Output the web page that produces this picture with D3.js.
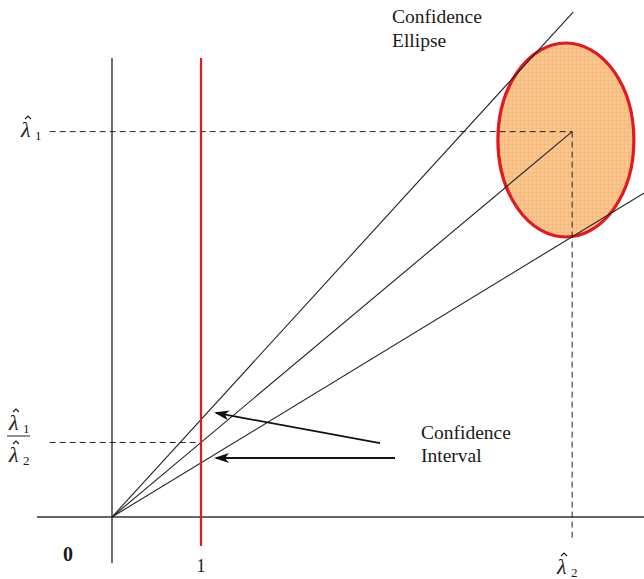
<!DOCTYPE html>
<html>
<head>
<meta charset="utf-8">
<script src="https://cdn.jsdelivr.net/npm/d3@7"></script>
<style>
  html, body { margin: 0; padding: 0; background: #fff; }
  svg { display: block; }
  text { font-family: "Liberation Serif", "Times New Roman", serif; fill: #1a1a1a; }
</style>
</head>
<body>
<svg id="chart" width="644" height="579"></svg>
<script>
// Point estimates: lambda1 (vertical), lambda2 (horizontal)
const estimates = [4.33, 5.17];
// Slopes of the rays through the origin: upper bound, lower bound
const boundSlopes = [1.095, 0.609];
// Axis tick labels
const tickValues = [0, 1];
const tickLabels = ["0", "1"];
// Confidence ellipse: centre [x, y] and radii [rx, ry] in data units
const ellipseCenter = [5.10, 4.236];
const ellipseRadii = [0.764, 1.09];
// Extents of the axes and of the rays
const xExtent = [-0.843, 5.98];
const yExtent = [-0.517, 5.157];
const redExtent = [-0.326, 5.157];
const rayTop = 5.674;
// Annotation arrows: [tailX, tailY, tipX, tipY]
const arrows = [[3.011, 0.831, 1.169, 1.169], [3.18, 0.663, 1.169, 0.663]];

const svg = d3.select("#chart");
const unit = 89;
const x = d3.scaleLinear().domain([0, 1]).range([112, 112 + unit]);
const y = d3.scaleLinear().domain([0, 1]).range([517, 517 - unit]);

const lambda1 = estimates[0], lambda2 = estimates[1];
const ratio = lambda1 / lambda2;

// Gridded fill for the ellipse, and the arrowhead marker
const defs = svg.append("defs");
const pat = defs.append("pattern").attr("id", "grid")
  .attr("width", 4).attr("height", 4).attr("patternUnits", "userSpaceOnUse");
pat.append("rect").attr("width", 4).attr("height", 4).attr("fill", "#fbc68c");
pat.append("path").attr("d", "M0,0.5H4M0.5,0V4").attr("stroke", "#f3b67a").attr("stroke-width", 0.6);
defs.append("marker").attr("id", "arrowhead")
  .attr("viewBox", "0 0 15 10").attr("refX", 13).attr("refY", 5)
  .attr("markerWidth", 15).attr("markerHeight", 10).attr("markerUnits", "userSpaceOnUse")
  .attr("orient", "auto")
  .append("path").attr("d", "M15,5L0,0L4,5L0,10Z").attr("fill", "#111");

// Ellipse
svg.append("ellipse")
  .attr("cx", x(ellipseCenter[0])).attr("cy", y(ellipseCenter[1]))
  .attr("rx", x(ellipseRadii[0]) - x(0)).attr("ry", y(0) - y(ellipseRadii[1]))
  .attr("fill", "url(#grid)").attr("stroke", "#e2191e").attr("stroke-width", 3.2);

// Axes
svg.append("line").attr("x1", x(xExtent[0])).attr("x2", x(xExtent[1]))
  .attr("y1", y(0)).attr("y2", y(0)).attr("stroke", "#333").attr("stroke-width", 1.4);
svg.append("line").attr("x1", x(0)).attr("x2", x(0))
  .attr("y1", y(yExtent[0])).attr("y2", y(yExtent[1])).attr("stroke", "#333").attr("stroke-width", 1.4);

// Dashed guide lines
const dash = "6,4";
const guide = (x1, y1, x2, y2) => svg.append("line")
  .attr("x1", x1).attr("y1", y1).attr("x2", x2).attr("y2", y2)
  .attr("stroke", "#222").attr("stroke-width", 1).attr("stroke-dasharray", dash);
guide(x(-0.70), y(lambda1), x(lambda2), y(lambda1));
guide(x(lambda2), y(lambda1), x(lambda2), y(-0.27));
guide(x(-0.70), y(ratio), x(1), y(ratio));

// Rays through the origin
const rays = [
  [[0, 0], [rayTop / boundSlopes[0], rayTop]],
  [[0, 0], [lambda2, lambda1]],
  [[0, 0], [xExtent[1], xExtent[1] * boundSlopes[1]]]
];
svg.selectAll(".ray").data(rays).join("line").attr("class", "ray")
  .attr("x1", d => x(d[0][0])).attr("y1", d => y(d[0][1]))
  .attr("x2", d => x(d[1][0])).attr("y2", d => y(d[1][1]))
  .attr("stroke", "#222").attr("stroke-width", 1.1);

// Red line at x = 1
svg.append("line").attr("x1", x(1)).attr("x2", x(1))
  .attr("y1", y(redExtent[0])).attr("y2", y(redExtent[1]))
  .attr("stroke", "#e2191e").attr("stroke-width", 2.2);

// Arrows
svg.selectAll(".arrow").data(arrows).join("line").attr("class", "arrow")
  .attr("x1", d => x(d[0])).attr("y1", d => y(d[1]))
  .attr("x2", d => x(d[2])).attr("y2", d => y(d[3]))
  .attr("stroke", "#111").attr("stroke-width", 1.8)
  .attr("marker-end", "url(#arrowhead)");

// Tick labels
svg.append("text").attr("x", x(tickValues[0]) - 44).attr("y", 561)
  .attr("text-anchor", "middle").attr("font-size", 20).attr("font-weight", "bold").text(tickLabels[0]);
svg.append("text").attr("x", x(tickValues[1])).attr("y", 572)
  .attr("text-anchor", "middle").attr("font-size", 18).text(tickLabels[1]);

// Hatted lambda with a subscript
function hatLambda(px, py, sub) {
  const g = svg.append("g");
  g.append("text").attr("x", px).attr("y", py).attr("font-size", 22)
    .attr("font-style", "italic").text("λ");
  g.append("path")
    .attr("d", `M${px + 4},${py - 18}L${px + 7},${py - 21}L${px + 10},${py - 18}`)
    .attr("fill", "none").attr("stroke", "#1a1a1a").attr("stroke-width", 1.2);
  g.append("text").attr("x", px + 14).attr("y", py + 3).attr("font-size", 13).text(sub);
  return g;
}
hatLambda(21, 137, "1");
hatLambda(9, 430, "1");
svg.append("line").attr("x1", 7).attr("x2", 30).attr("y1", 436).attr("y2", 436)
  .attr("stroke", "#222").attr("stroke-width", 1);
hatLambda(9, 462, "2");
hatLambda(557, 574, "2");

// Annotations
const ann1 = svg.append("text").attr("font-size", 19.5);
ann1.append("tspan").attr("x", 392).attr("y", 23).text("Confidence");
ann1.append("tspan").attr("x", 392).attr("y", 47).text("Ellipse");
const ann2 = svg.append("text").attr("font-size", 19.5);
ann2.append("tspan").attr("x", 421).attr("y", 439).text("Confidence");
ann2.append("tspan").attr("x", 421).attr("y", 462).text("Interval");
</script>
</body>
</html>
